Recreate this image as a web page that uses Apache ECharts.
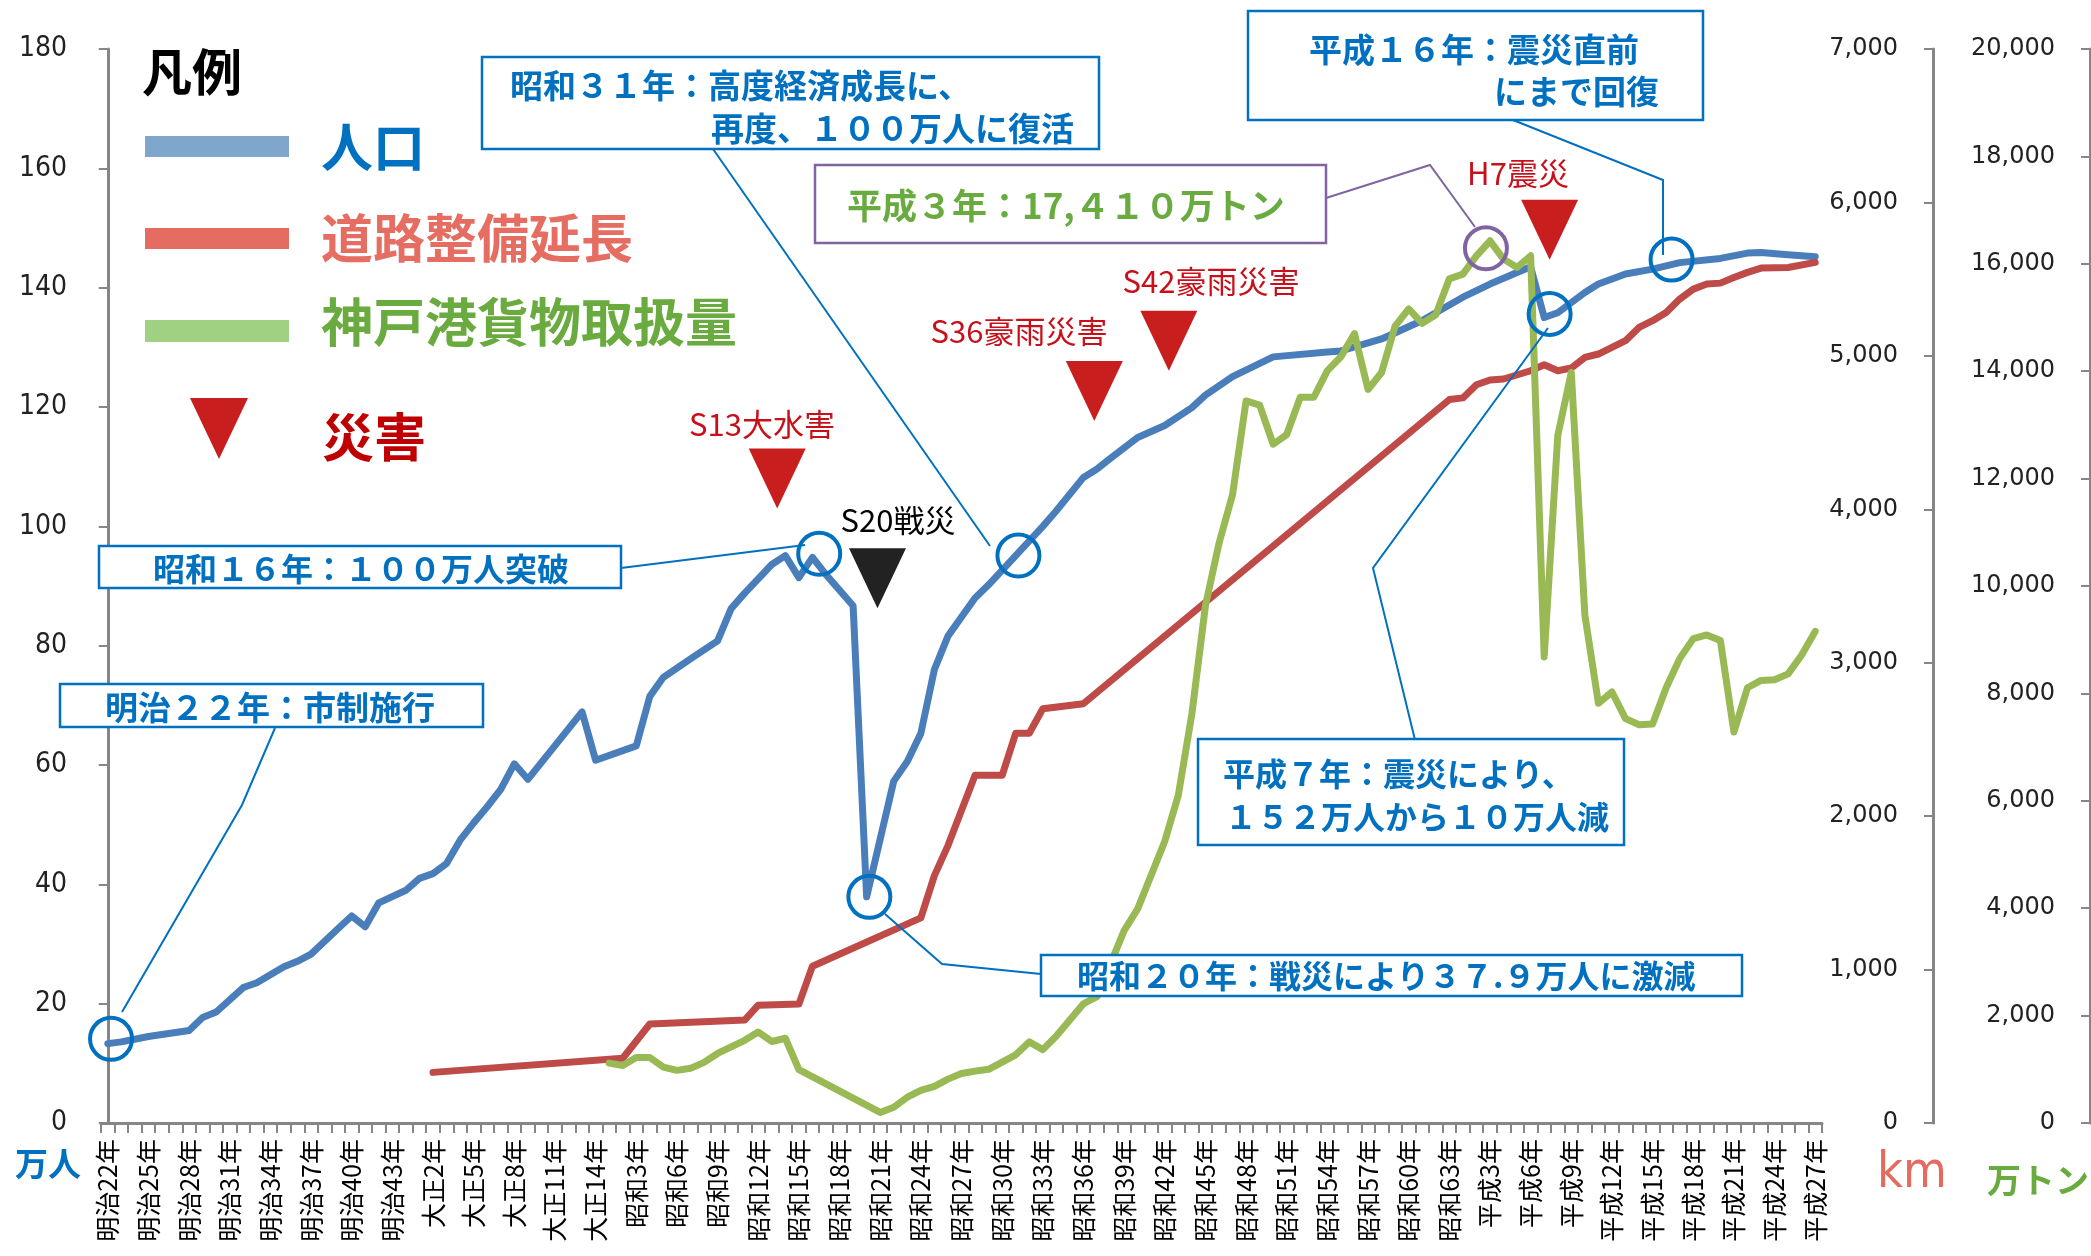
<!DOCTYPE html>
<html><head><meta charset="utf-8">
<script src="https://cdn.jsdelivr.net/npm/echarts@6/dist/echarts.min.js"></script>
<style>html,body{margin:0;padding:0;background:#fff}#c{width:2091px;height:1256px}</style>
</head><body><div id="c"></div>
<script>
// ---- categories (years, 1889-2015) ----
const categories = [
 "明治22年","明治23年","明治24年","明治25年","明治26年","明治27年","明治28年","明治29年","明治30年","明治31年",
 "明治32年","明治33年","明治34年","明治35年","明治36年","明治37年","明治38年","明治39年","明治40年","明治41年",
 "明治42年","明治43年","明治44年","明治45年","大正2年","大正3年","大正4年","大正5年","大正6年","大正7年",
 "大正8年","大正9年","大正10年","大正11年","大正12年","大正13年","大正14年","大正15年","昭和2年","昭和3年",
 "昭和4年","昭和5年","昭和6年","昭和7年","昭和8年","昭和9年","昭和10年","昭和11年","昭和12年","昭和13年",
 "昭和14年","昭和15年","昭和16年","昭和17年","昭和18年","昭和19年","昭和20年","昭和21年","昭和22年","昭和23年",
 "昭和24年","昭和25年","昭和26年","昭和27年","昭和28年","昭和29年","昭和30年","昭和31年","昭和32年","昭和33年",
 "昭和34年","昭和35年","昭和36年","昭和37年","昭和38年","昭和39年","昭和40年","昭和41年","昭和42年","昭和43年",
 "昭和44年","昭和45年","昭和46年","昭和47年","昭和48年","昭和49年","昭和50年","昭和51年","昭和52年","昭和53年",
 "昭和54年","昭和55年","昭和56年","昭和57年","昭和58年","昭和59年","昭和60年","昭和61年","昭和62年","昭和63年",
 "平成元年","平成2年","平成3年","平成4年","平成5年","平成6年","平成7年","平成8年","平成9年","平成10年",
 "平成11年","平成12年","平成13年","平成14年","平成15年","平成16年","平成17年","平成18年","平成19年","平成20年",
 "平成21年","平成22年","平成23年","平成24年","平成25年","平成26年","平成27年"
];
// ---- 人口 (万人) ----
const population = [
 13.3,13.6,null,14.5,null,null,15.5,17.7,18.6,null,
 22.7,23.5,null,26.2,27.1,28.3,null,32.6,34.7,32.9,
 36.9,null,39.0,41.0,41.8,43.5,47.4,50.3,53.0,55.9,
 60.2,57.6,null,null,null,68.9,60.8,null,null,63.2,
 71.5,74.7,null,77.8,null,80.8,86.2,88.8,null,93.6,
 95.1,91.4,94.8,91.9,null,86.7,37.9,null,57.3,60.6,
 65.3,76.0,81.6,84.8,88.0,90.2,null,95.1,null,100.0,
 102.6,null,108.2,109.6,111.4,null,114.9,null,116.9,null,
 119.9,122.0,null,125.1,null,null,128.4,null,null,null,
 129.2,129.4,null,null,131.4,null,null,134.5,null,null,
 138.4,null,140.6,null,null,143.5,135.0,135.8,null,139.2,
 140.6,null,142.3,null,143.1,null,144.2,null,null,144.9,
 null,145.8,145.9,null,145.5,null,145.2
];
// ---- 道路整備延長 (km) ----
const roadLength = [
 null,null,null,null,null,null,null,null,null,null,
 null,null,null,null,null,null,null,null,null,null,
 null,null,null,null,330,null,null,null,null,null,
 null,null,null,null,null,null,null,null,422,null,
 645,null,null,null,null,null,null,671,768,null,
 null,775,1022,null,null,null,null,null,null,null,
 1337,1612,1808,null,2266,null,2266,2540,2540,2700,
 null,null,2733,null,null,null,null,null,null,null,
 null,null,null,null,null,null,null,null,null,null,
 null,null,null,null,null,null,null,null,null,4715,
 4726,4812,4843,4849,null,4903,4942,4903,4921,4990,
 5012,null,5099,5185,5229,5283,5370,5435,5468,5474,
 5511,5544,5572,null,5576,null,5609
];
// ---- 神戸港貨物取扱量 (万トン) ----
const cargo = [
 null,null,null,null,null,null,null,null,null,null,
 null,null,null,null,null,null,null,null,null,null,
 null,null,null,null,null,null,null,null,null,null,
 null,null,null,null,null,null,null,1116,1070,1220,
 1220,1042,980,1018,1129,1295,null,1540,1693,1518,
 1578,995,null,null,null,null,null,197,294,480,
 607,681,817,921,966,1000,null,1270,1510,1366,
 1619,null,2221,2353,null,3583,3987,null,5247,6104,
 7617,9633,10793,11700,13446,13370,12640,12820,13515,13515,
 14010,14270,14700,13660,13975,14840,15160,14890,15050,15720,
 15808,16149,16428,16087,15932,16149,8680,12800,13978,9460,
 7815,8026,7531,7416,7431,8106,8648,9020,9088,8986,
 7282,8106,8242,8255,8363,8716,9155
];
// ---- 災害 markers: [year index, 人口-axis level] ----
const disasterRed = [[49.4,108.0],[72.8,122.7],[78.3,131.1],[106.4,149.7]];
const disasterBlack = [[56.8,91.3]];
// ---- highlighted points: [year index, value on 人口 axis] ----
const highlightBlue = [[0.24,14.1],[52.5,95.4],[56.2,37.9],[67.2,95.1],[106.4,135.6],[115.4,144.7]];
const highlightPurple = [[101.7,146.6]];

const CJK = '"Noto Sans CJK JP","Noto Sans CJK SC",sans-serif';
const NARROW = '"Liberation Sans Narrow","DejaVu Sans Condensed","Liberation Sans",sans-serif';
const AX = '#868686';
const BLUE_T = '#0070C0';

function txt(text, x, y, size, color, opts) {
  opts = opts || {};
  return {type:'text', z:110, silent:true, style:{
    text:text, x:x, y:y, fill:color,
    fontSize:size, fontFamily:opts.family||CJK, fontWeight:opts.weight||'normal',
    align:opts.align||'left', verticalAlign:'middle',
    textAlign:opts.align||'left', textVerticalAlign:'middle'}};
}
function box(x,y,w,h,stroke) {
  return {type:'rect', z:105, silent:true, shape:{x:x,y:y,width:w,height:h},
    style:{fill:'#fff', stroke:stroke||BLUE_T, lineWidth:2.5}};
}
function lead(points, stroke) {
  return {type:'polyline', z:104, silent:true, shape:{points:points},
    style:{fill:null, stroke:stroke||BLUE_T, lineWidth:2}};
}

const graphics = [
  // legend
  txt('凡例',142,72,50,'#000',{weight:'bold'}),
  {type:'rect',z:110,shape:{x:145,y:136,width:144,height:21},style:{fill:'#7FA7CC'}},
  txt('人口',321,147,52,'#0070C0',{weight:'bold'}),
  {type:'rect',z:110,shape:{x:145,y:228,width:144,height:21},style:{fill:'#E46C60'}},
  txt('道路整備延長',321,238,52,'#E56D61',{weight:'bold'}),
  {type:'rect',z:110,shape:{x:145,y:320,width:144,height:22},style:{fill:'#A0D182'}},
  txt('神戸港貨物取扱量',321,322,52,'#6AAB3F',{weight:'bold'}),
  {type:'polygon',z:110,shape:{points:[[190,398],[248,398],[219,459]]},style:{fill:'#C81E1E'}},
  txt('災害',322,437,52,'#C00000',{weight:'bold'}),
  // disaster labels
  txt('S13大水害',762,424,31,'#C8101A',{align:'center'}),
  txt('S20戦災',898,520,31,'#000',{align:'center'}),
  txt('S36豪雨災害',1019,331,31,'#C8101A',{align:'center'}),
  txt('S42豪雨災害',1211,281,31,'#C8101A',{align:'center'}),
  txt('H7震災',1518,173,31,'#C8101A',{align:'center'}),
  // leader lines
  lead([[713,149],[990,546]]),
  lead([[1513,120],[1663,180],[1663,255]]),
  lead([[1326,198],[1430,165],[1475,227]],'#8064A2'),
  lead([[621,568],[805,545]]),
  lead([[275,728],[242,805],[122,1012]]),
  lead([[1415,740],[1373,568],[1548,328]]),
  lead([[885,914],[942,964],[1041,974]]),
  // callout boxes
  box(482,57,617,92),
  txt('昭和３１年：高度経済成長に、',510,85,33,BLUE_T,{weight:'bold'}),
  txt('再度、１００万人に復活',711,128,33,BLUE_T,{weight:'bold'}),
  box(1248,11,455,109),
  txt('平成１６年：震災直前',1309,49,33,BLUE_T,{weight:'bold'}),
  txt('にまで回復',1494,91,33,BLUE_T,{weight:'bold'}),
  box(815,165,511,78,'#8064A2'),
  txt('平成３年：17,４１０万トン',847,206,35,'#6AAB3F',{weight:'bold'}),
  box(99,546,522,42),
  txt('昭和１６年：１００万人突破',153,569,32,BLUE_T,{weight:'bold'}),
  box(60,684,423,43),
  txt('明治２２年：市制施行',105,707,33,BLUE_T,{weight:'bold'}),
  box(1198,739,426,106),
  txt('平成７年：震災により、',1223,774,32,BLUE_T,{weight:'bold'}),
  txt('１５２万人から１０万人減',1225,817,32,BLUE_T,{weight:'bold'}),
  box(1041,955,701,41),
  txt('昭和２０年：戦災により３７.９万人に激減',1077,976,32,BLUE_T,{weight:'bold'}),
  // axis unit names
  txt('万人',15,1163,33,'#0070C0',{weight:'bold'}),
  txt('km',1877,1174,50,'#E46C5F',{family:NARROW}),
  txt('万トン',1987,1180,34,'#6AAB3F',{weight:'bold'})
];

const chart = echarts.init(document.getElementById('c'), null, {renderer:'canvas'});
chart.setOption({
  animation:false,
  backgroundColor:'#fff',
  grid:{left:101, right:269, top:49, bottom:133, containLabel:false},
  xAxis:[{
    type:'category', data:categories, boundaryGap:true,
    axisLine:{show:true, onZero:false, lineStyle:{color:AX, width:3}},
    axisTick:{show:true, interval:0, length:10, lineStyle:{color:AX, width:2}},
    axisLabel:{interval:2, rotate:90, fontSize:25, fontFamily:CJK, color:'#000', margin:16},
    splitLine:{show:false}
  },{
    type:'value', min:-0.5, max:126.5, show:false
  }],
  yAxis:[{
    type:'value', position:'left', min:0, max:180, interval:20,
    axisLine:{show:true, lineStyle:{color:AX, width:3}},
    axisTick:{show:true, length:9, lineStyle:{color:AX, width:2}},
    axisLabel:{fontFamily:NARROW, fontSize:28, color:'#222', margin:34},
    splitLine:{show:false}
  },{
    type:'value', position:'right', offset:111, min:0, max:7000, interval:1000,
    axisLine:{show:true, lineStyle:{color:AX, width:3}},
    axisTick:{show:true, inside:true, length:9, lineStyle:{color:AX, width:2}},
    axisLabel:{inside:true, fontFamily:'"DejaVu Sans",sans-serif', fontSize:24, color:'#222', margin:35,
      formatter:v=>v.toLocaleString('en-US')},
    splitLine:{show:false}
  },{
    type:'value', position:'right', offset:268, min:0, max:20000, interval:2000,
    axisLine:{show:true, lineStyle:{color:AX, width:3}},
    axisTick:{show:true, inside:true, length:9, lineStyle:{color:AX, width:2}},
    axisLabel:{inside:true, fontFamily:'"DejaVu Sans",sans-serif', fontSize:24, color:'#222', margin:35,
      formatter:v=>v.toLocaleString('en-US')},
    splitLine:{show:false}
  }],
  series:[
    {name:'人口', type:'line', xAxisIndex:0, yAxisIndex:0, data:population, connectNulls:true,
     showSymbol:false, symbol:'none', lineStyle:{color:'#4A7EBB', width:7, join:'round', cap:'round'}, z:3, silent:true},
    {name:'道路整備延長', type:'line', xAxisIndex:0, yAxisIndex:1, data:roadLength, connectNulls:true,
     showSymbol:false, symbol:'none', lineStyle:{color:'#BE4B48', width:7, join:'round', cap:'round'}, z:3, silent:true},
    {name:'神戸港貨物取扱量', type:'line', xAxisIndex:0, yAxisIndex:2, data:cargo, connectNulls:true,
     showSymbol:false, symbol:'none', lineStyle:{color:'#98B954', width:7, join:'round', cap:'round'}, z:3, silent:true},
    {name:'災害', type:'scatter', xAxisIndex:1, yAxisIndex:0, data:disasterRed, symbol:'triangle',
     symbolRotate:180, symbolSize:[57,60], itemStyle:{color:'#C81E1E', opacity:1}, z:6, silent:true},
    {name:'戦災', type:'scatter', xAxisIndex:1, yAxisIndex:0, data:disasterBlack, symbol:'triangle',
     symbolRotate:180, symbolSize:[57,60], itemStyle:{color:'#222', opacity:1}, z:6, silent:true},
    {name:'注目点', type:'scatter', xAxisIndex:1, yAxisIndex:0, data:highlightBlue, symbol:'circle',
     symbolSize:42, itemStyle:{color:'rgba(0,0,0,0)', borderColor:'#0070C0', borderWidth:4, opacity:1}, z:7, silent:true},
    {name:'注目点2', type:'scatter', xAxisIndex:1, yAxisIndex:0, data:highlightPurple, symbol:'circle',
     symbolSize:42, itemStyle:{color:'rgba(0,0,0,0)', borderColor:'#8064A2', borderWidth:4, opacity:1}, z:7, silent:true}
  ],
  graphic:{elements:graphics}
});
</script>
</body></html>
